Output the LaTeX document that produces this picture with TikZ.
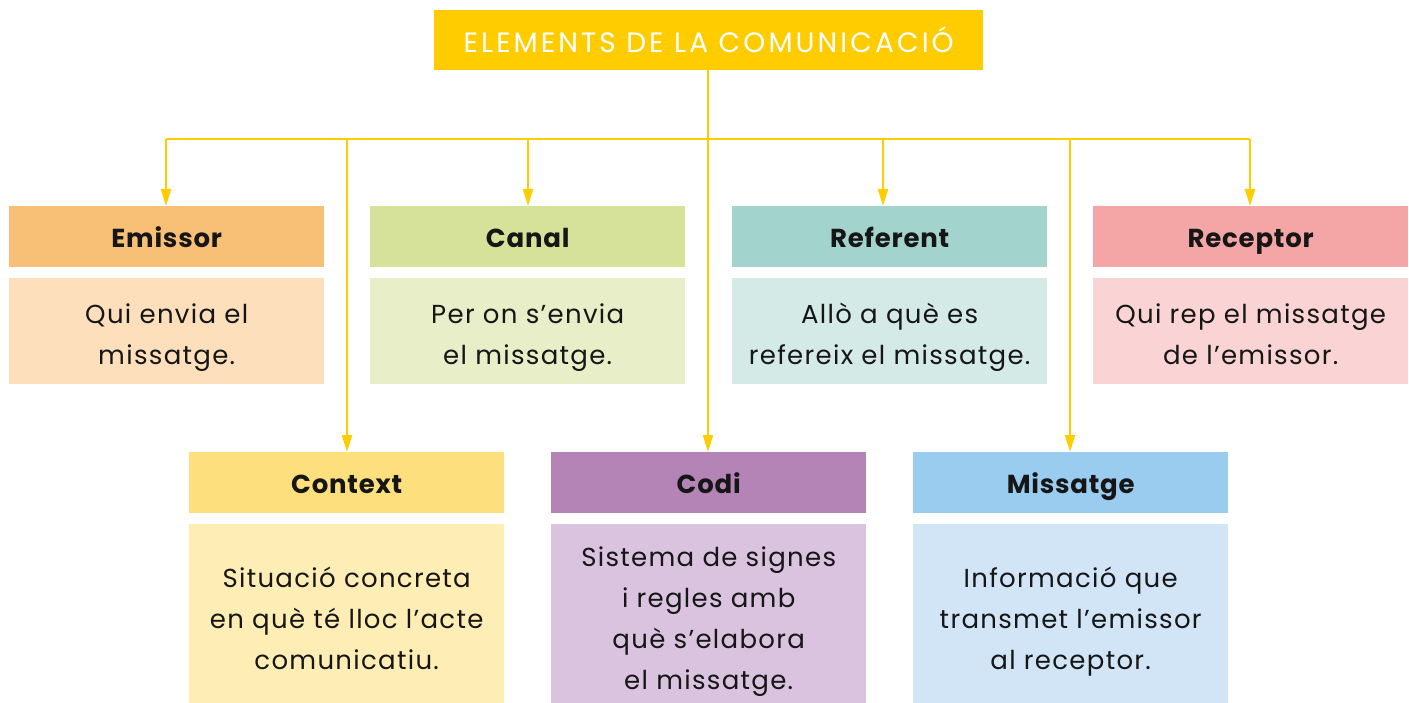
\documentclass[tikz,border=0pt]{standalone}
\usepackage{fontspec}
\setmainfont{Poppins}
\newfontfamily\bodyfont[LetterSpace=5]{Poppins}
\newfontfamily\titlefont[LetterSpace=11]{Poppins}
\newfontfamily\headfont[LetterSpace=3]{Poppins}
\usetikzlibrary{arrows.meta}
\definecolor{ylw}{HTML}{FFCC00}
\definecolor{emH}{HTML}{F8C077}
\definecolor{emB}{HTML}{FDDFBB}
\definecolor{caH}{HTML}{D6E29A}
\definecolor{caB}{HTML}{E8EFC8}
\definecolor{reH}{HTML}{A2D4CD}
\definecolor{reB}{HTML}{D3EAE6}
\definecolor{rcH}{HTML}{F4A6A6}
\definecolor{rcB}{HTML}{FAD4D4}
\definecolor{coH}{HTML}{FEDF7D}
\definecolor{coB}{HTML}{FEEDB5}
\definecolor{cdH}{HTML}{B584B7}
\definecolor{cdB}{HTML}{D9C3DF}
\definecolor{miH}{HTML}{9ACCEF}
\definecolor{miB}{HTML}{D1E5F7}
\definecolor{txt}{HTML}{161616}
\begin{document}
\begin{tikzpicture}[x=1pt,y=-1pt,
  headbox/.style={anchor=north west, minimum width=315pt, minimum height=61pt, inner sep=0pt, text=txt,
    text height=22pt, text depth=0pt, font=\headfont\fontsize{26}{32}\selectfont\bfseries},
  bodybox/.style={anchor=north west, minimum width=315pt, inner sep=0pt, align=center, text=txt,
    text depth=0pt, font=\bodyfont\fontsize{26}{41}\selectfont},
  twoline/.style={bodybox, minimum height=106pt, text height=67pt},
  threeline/.style={bodybox, minimum height=179pt, text height=111pt},
  fourline/.style={bodybox, minimum height=179pt, text height=152pt},
  link/.style={draw=ylw, line width=2pt},
  arr/.style={link, -{Triangle[width=10pt,length=17pt]}}
]
\useasboundingbox (0,0) rectangle (1409,703);
% title
\node[anchor=north west, minimum width=549pt, minimum height=60pt, inner sep=0pt, fill=ylw, text=white,
  text height=24pt, text depth=0pt, font=\titlefont\fontsize{28}{32}\selectfont] (title) at (434,10) {ELEMENTS DE LA COMUNICACIÓ};
% top row
\node[headbox, fill=emH] (emH) at (9,206) {Emissor};
\node[twoline, fill=emB] (emB) at (9,278) {Qui envia el\\missatge.};
\node[headbox, fill=caH] (caH) at (370,206) {Canal};
\node[twoline, fill=caB] (caB) at (370,278) {Per on s’envia\\el missatge.};
\node[headbox, fill=reH] (reH) at (732,206) {Referent};
\node[twoline, fill=reB] (reB) at (732,278) {Allò a què es\\refereix el missatge.};
\node[headbox, fill=rcH] (rcH) at (1093,206) {Receptor};
\node[twoline, fill=rcB] (rcB) at (1093,278) {Qui rep el missatge\\de l’emissor.};
% bottom row
\node[headbox, fill=coH] (coH) at (189,452) {Context};
\node[threeline, fill=coB] (coB) at (189,524) {Situació concreta\\en què té lloc l’acte\\comunicatiu.};
\node[headbox, fill=cdH] (cdH) at (551,452) {Codi};
\node[fourline, fill=cdB] (cdB) at (551,524) {Sistema de signes\\i regles amb\\què s’elabora\\el missatge.};
\node[headbox, fill=miH] (miH) at (913,452) {Missatge};
\node[threeline, fill=miB] (miB) at (913,524) {Informació que\\transmet l’emissor\\al receptor.};
% bus
\coordinate (bL) at (166,139);
\coordinate (bR) at (1250,139);
\coordinate (bC) at (708,139);
\coordinate (bCtx) at (347,139);
\coordinate (bCan) at (528,139);
\coordinate (bRef) at (883,139);
\coordinate (bMis) at (1070,139);
\draw[link] (title.south -| bC) -- (bC);
\draw[link] (bL) -- (bR);
\draw[arr] (bL) -- (bL |- emH.north);
\draw[arr] (bCan) -- (bCan |- caH.north);
\draw[arr] (bRef) -- (bRef |- reH.north);
\draw[arr] (bR) -- (bR |- rcH.north);
\draw[arr] (bCtx) -- (bCtx |- coH.north);
\draw[arr] (bC) -- (bC |- cdH.north);
\draw[arr] (bMis) -- (bMis |- miH.north);
\end{tikzpicture}
\end{document}
